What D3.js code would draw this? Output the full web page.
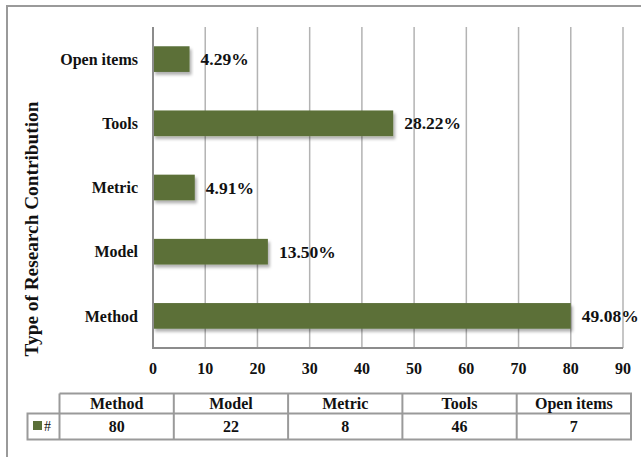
<!DOCTYPE html>
<html lang="en">

<head>
  <title></title>
  <meta charset="UTF-8">
  <style>
    body {
      margin: 0;
      background: #fff;
    }
    svg text {
      font-family: "Liberation Serif", "Times New Roman", serif;
      font-weight: bold;
      fill: #111;
    }
  </style>
</head>

<body>
  <div id="container"></div>
  <script src="https://cdn.jsdelivr.net/npm/d3@7"></script>
  <script>
    const categories = ['Method', 'Model', 'Metric', 'Tools', 'Open items'];
    const counts = [80, 22, 8, 46, 7];
    const percents = ['49.08%', '13.50%', '4.91%', '28.22%', '4.29%'];
    const xTicks = [0, 10, 20, 30, 40, 50, 60, 70, 80, 90];
    const seriesName = '#';

    const size = { w: 641, h: 457 };
    const plot = { left: 153, right: 623, top: 27, bottom: 348 };
    const barColor = '#5b7039';

    const svg = d3.select('#container')
      .append('svg')
      .attr('width', size.w)
      .attr('height', size.h);

    const defs = svg.append('defs');
    const filter = defs.append('filter')
      .attr('id', 'shadow')
      .attr('x', '-5%').attr('y', '-20%')
      .attr('width', '115%').attr('height', '160%');
    filter.append('feDropShadow')
      .attr('dx', 2).attr('dy', 3)
      .attr('stdDeviation', 1.6)
      .attr('flood-color', '#000')
      .attr('flood-opacity', 0.3);

    // outer frame (only top and left visible)
    svg.append('path')
      .attr('d', `M7,${size.h} V6 H${size.w}`)
      .attr('fill', 'none')
      .attr('stroke', '#9a9a9a')
      .attr('stroke-width', 2);

    const x = d3.scaleLinear()
      .domain([0, 90])
      .range([plot.left, plot.right]);

    // first category at bottom
    const y = d3.scaleBand()
      .domain(categories)
      .range([plot.bottom, plot.top])
      .paddingInner(0.6)
      .paddingOuter(0.3);

    // gridlines
    svg.append('g')
      .selectAll('line')
      .data(xTicks.slice(1))
      .join('line')
      .attr('x1', d => x(d)).attr('x2', d => x(d))
      .attr('y1', plot.top).attr('y2', plot.bottom)
      .attr('stroke', '#b3b3b3')
      .attr('stroke-width', 1.5);

    // bars
    svg.append('g')
      .selectAll('rect')
      .data(categories)
      .join('rect')
      .attr('x', x(0))
      .attr('y', d => y(d))
      .attr('width', (d, i) => x(counts[i]) - x(0))
      .attr('height', y.bandwidth())
      .attr('fill', barColor)
      .attr('filter', 'url(#shadow)');

    // axis lines
    svg.append('path')
      .attr('d', `M${plot.left},${plot.top} V${plot.bottom} H${plot.right}`)
      .attr('fill', 'none')
      .attr('stroke', '#8c8c8c')
      .attr('stroke-width', 2);

    // percent labels
    svg.append('g')
      .selectAll('text')
      .data(categories)
      .join('text')
      .attr('x', (d, i) => x(counts[i]) + 11)
      .attr('y', d => y(d) + y.bandwidth() / 2)
      .attr('dy', '0.35em')
      .style('font-size', '17.5px')
      .text((d, i) => percents[i]);

    // category labels
    svg.append('g')
      .selectAll('text')
      .data(categories)
      .join('text')
      .attr('x', plot.left - 15)
      .attr('y', d => y(d) + y.bandwidth() / 2)
      .attr('dy', '0.35em')
      .attr('text-anchor', 'end')
      .style('font-size', '16px')
      .text(d => d);

    // x tick labels
    svg.append('g')
      .selectAll('text')
      .data(xTicks)
      .join('text')
      .attr('x', d => x(d))
      .attr('y', 368)
      .attr('dy', '0.35em')
      .attr('text-anchor', 'middle')
      .style('font-size', '16px')
      .text(d => d);

    // y axis title
    svg.append('text')
      .attr('transform', 'translate(31,229) rotate(-90)')
      .attr('text-anchor', 'middle')
      .attr('dy', '0.35em')
      .style('font-size', '19.3px')
      .text('Type of Research Contribution');

    // data table
    const table = { left: 59.5, right: 631, top: 393.5, mid: 413.5, bottom: 439.5, legendLeft: 27.5 };
    const col = d3.scaleBand()
      .domain(categories)
      .range([table.left, table.right]);

    const tg = svg.append('g')
      .attr('fill', 'none')
      .attr('stroke', '#9a9a9a')
      .attr('stroke-width', 2);
    tg.append('path')
      .attr('d', `M${table.left},${table.top} H${table.right} V${table.bottom} H${table.legendLeft} V${table.mid} H${table.right}`);
    tg.selectAll('line')
      .data(categories)
      .join('line')
      .attr('x1', d => col(d)).attr('x2', d => col(d))
      .attr('y1', table.top).attr('y2', table.bottom);

    svg.append('g')
      .selectAll('text')
      .data(categories)
      .join('text')
      .attr('x', d => col(d) + col.bandwidth() / 2)
      .attr('y', (table.top + table.mid) / 2)
      .attr('dy', '0.35em')
      .attr('text-anchor', 'middle')
      .style('font-size', '16px')
      .text(d => d);

    svg.append('g')
      .selectAll('text')
      .data(categories)
      .join('text')
      .attr('x', d => col(d) + col.bandwidth() / 2)
      .attr('y', (table.mid + table.bottom) / 2)
      .attr('dy', '0.35em')
      .attr('text-anchor', 'middle')
      .style('font-size', '16px')
      .text((d, i) => counts[i]);

    // legend key
    svg.append('rect')
      .attr('x', 33).attr('y', 421)
      .attr('width', 9).attr('height', 9)
      .attr('fill', barColor);
    svg.append('text')
      .attr('x', 44)
      .attr('y', (table.mid + table.bottom) / 2)
      .attr('dy', '0.35em')
      .style('font-size', '14px')
      .style('font-weight', 'normal')
      .text(seriesName);
  </script>
</body>

</html>
